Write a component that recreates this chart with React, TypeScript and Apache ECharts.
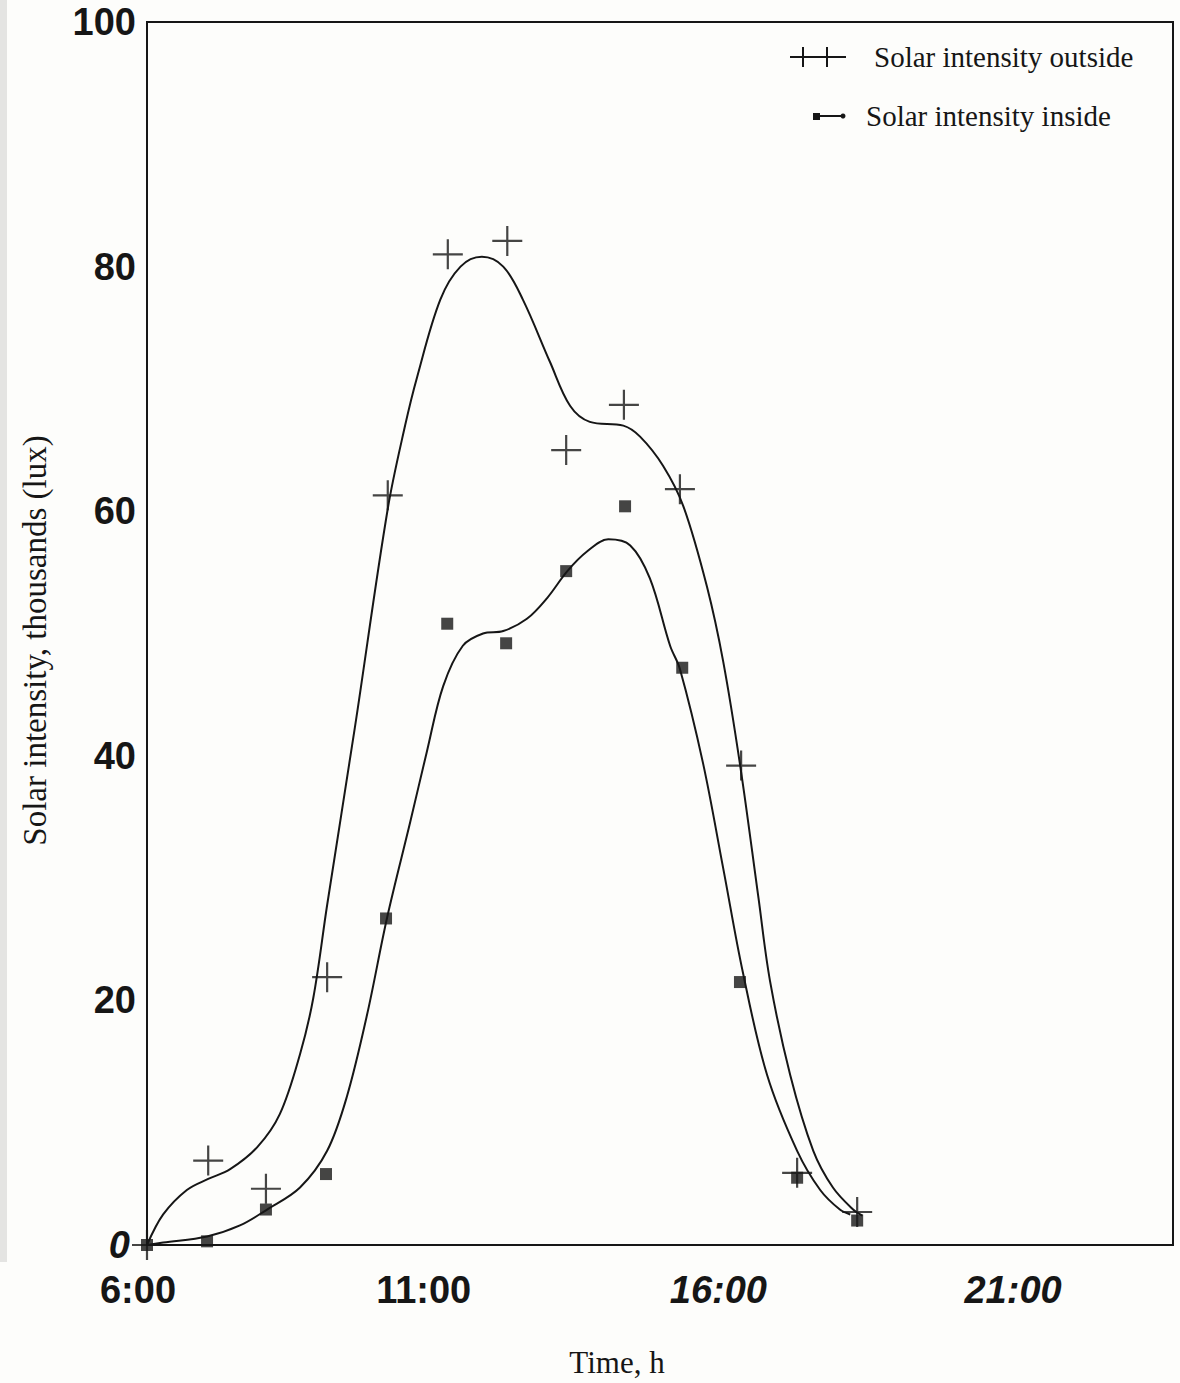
import React, { useEffect, useRef } from "react";
import * as echarts from "echarts";

// Scatter markers
const hoursOutside = [6, 7.06, 8.06, 9.12, 10.17, 11.21, 12.24, 13.26, 14.26, 15.23, 16.29, 17.26, 18.3];
const valuesOutside = [0, 6.9, 4.6, 21.9, 61.3, 81.0, 82.1, 65.0, 68.7, 61.8, 39.2, 5.9, 2.7];
const hoursInside = [6, 7.04, 8.06, 9.1, 10.14, 11.2, 12.22, 13.26, 14.28, 15.27, 16.27, 17.26, 18.3];
const valuesInside = [0, 0.3, 2.9, 5.8, 26.7, 50.8, 49.2, 55.1, 60.4, 47.2, 21.5, 5.5, 2.0];

// Fitted smooth curves
const curveOutsideHours = [6.0, 6.28, 6.69, 7.06, 7.44, 7.91, 8.3, 8.65, 8.88, 9.12, 9.6, 10.17, 10.47, 10.68, 11.08, 11.43, 11.8, 12.17, 12.51, 12.98, 13.33, 13.67, 14.25, 14.54, 14.94, 15.29, 15.7, 15.98, 16.28, 16.59, 16.79, 17.14, 17.54, 17.88, 18.23, 18.39];
const curveOutsideValues = [0, 2.5, 4.5, 5.4, 6.2, 8.0, 10.7, 15.6, 20.2, 27.8, 42.3, 60.2, 67.0, 71.0, 77.3, 80.0, 80.8, 80.0, 77.3, 72.2, 68.6, 67.3, 67.0, 66.1, 63.7, 60.4, 53.8, 47.7, 39.0, 28.4, 21.6, 13.9, 7.7, 4.7, 2.9, 2.4];
const curveInsideHours = [6.0, 6.28, 7.04, 7.61, 8.08, 8.65, 9.12, 9.46, 9.81, 10.16, 10.56, 10.85, 11.13, 11.47, 11.82, 12.17, 12.58, 12.93, 13.28, 13.62, 13.99, 14.37, 14.71, 15.06, 15.23, 15.63, 15.98, 16.32, 16.74, 17.26, 17.66, 18.0, 18.18];
const curveInsideValues = [0, 0.2, 0.7, 1.6, 2.9, 4.7, 7.7, 12.1, 18.8, 26.8, 34.6, 40.4, 45.7, 49.0, 50.0, 50.2, 51.2, 52.9, 55.1, 56.7, 57.7, 57.2, 54.5, 49.0, 47.1, 39.4, 30.8, 22.3, 13.9, 7.7, 4.5, 2.9, 2.5];

const xTickValues = [6, 11, 16, 21];
const xTickLabels = ["6:00", "11:00", "16:00", "21:00"];
const xTickStyles = ["a", "b", "c", "d"];
const yTickValues = [0, 20, 40, 60, 80, 100];
const yTickLabels = ["0", "20", "40", "60", "80", "100"];

const seriesNames = ["Solar intensity outside", "Solar intensity inside"];
const xTitle = "Time, h";
const yTitle = "Solar intensity, thousands (lux)";

const INK = "#161616";
const SERIF = "'Liberation Serif', 'DejaVu Serif', serif";
const SANS = "'Liberation Sans', Arial, sans-serif";

const plusPath = "path://M-1.1,-15 L1.1,-15 L1.1,-1.1 L15,-1.1 L15,1.1 L1.1,1.1 L1.1,15 L-1.1,15 L-1.1,1.1 L-15,1.1 L-15,-1.1 L-1.1,-1.1 Z";

const pair = (xs: number[], ys: number[]) => xs.map((x, i) => [x, ys[i]]);

export default function App() {
  const ref = useRef<HTMLDivElement>(null);
  useEffect(() => {
    document.body.style.margin = "0";
    const chart = echarts.init(ref.current!, null, { renderer: "svg" });
    const tickFont = { fontSize: 38, fontWeight: "bold" as const, fontFamily: SANS, color: INK };
    chart.setOption({
      animation: false,
      backgroundColor: "#fdfdfb",
      grid: {
        left: 147,
        right: 7,
        top: 22,
        bottom: 135,
        show: true,
        borderColor: INK,
        borderWidth: 2,
      },
      xAxis: {
        type: "value",
        min: 6,
        max: 23.77,
        interval: 5,
        splitLine: { show: false },
        axisTick: { show: false },
        axisLine: { show: true, lineStyle: { color: INK, width: 2 } },
        name: xTitle,
        nameLocation: "middle",
        nameGap: 102,
        nameTextStyle: { fontFamily: SERIF, fontSize: 31, color: INK, padding: [0, 86, 0, 0] },
        axisLabel: {
          margin: 26,
          showMaxLabel: false,
          ...tickFont,
          formatter: (v: number) => {
            const i = xTickValues.findIndex((t) => Math.abs(t - v) < 1e-6);
            if (i < 0) return "";
            return `{${xTickStyles[i]}|${xTickLabels[i]}}`;
          },
          rich: {
            a: { ...tickFont, padding: [0, 18, 0, 0] },
            b: { ...tickFont, padding: [0, 24, 0, 0] },
            c: { ...tickFont, fontStyle: "italic", padding: [0, 12, 0, 0] },
            d: { ...tickFont, fontStyle: "italic" },
          },
        },
      },
      yAxis: {
        type: "value",
        min: 0,
        max: 100,
        interval: 20,
        splitLine: { show: false },
        axisTick: { show: false },
        axisLine: { show: true, lineStyle: { color: INK, width: 2 } },
        name: yTitle,
        nameLocation: "middle",
        nameRotate: 90,
        nameGap: 96,
        nameTextStyle: { fontFamily: SERIF, fontSize: 33, color: INK, padding: [0, 14, 0, 0] },
        axisLabel: {
          margin: 11,
          ...tickFont,
          formatter: (v: number) => {
            const i = yTickValues.findIndex((t) => Math.abs(t - v) < 1e-6);
            if (i < 0) return "";
            return i === 0 ? `{z|${yTickLabels[i]}}` : yTickLabels[i];
          },
          rich: {
            z: { ...tickFont, fontStyle: "italic", padding: [0, 6, 0, 0] },
          },
        },
      },
      series: [
        {
          name: seriesNames[0] + " curve",
          type: "line",
          data: pair(curveOutsideHours, curveOutsideValues),
          smooth: 0.35,
          showSymbol: false,
          symbol: "none",
          lineStyle: { color: INK, width: 2 },
          silent: true,
        },
        {
          name: seriesNames[1] + " curve",
          type: "line",
          data: pair(curveInsideHours, curveInsideValues),
          smooth: 0.35,
          showSymbol: false,
          symbol: "none",
          lineStyle: { color: INK, width: 2 },
          silent: true,
        },
        {
          name: seriesNames[0],
          type: "scatter",
          data: pair(hoursOutside, valuesOutside),
          symbol: plusPath,
          symbolSize: 30,
          itemStyle: { color: INK },
        },
        {
          name: seriesNames[1],
          type: "scatter",
          data: pair(hoursInside, valuesInside),
          symbol: "rect",
          symbolSize: 12,
          itemStyle: { color: INK },
        },
      ],
      graphic: [
        { type: "rect", left: 0, top: 0, shape: { width: 7, height: 1262 }, style: { fill: "#e4e4e2" }, z: -1 },
        { type: "line", shape: { x1: 790, y1: 57, x2: 846, y2: 57 }, style: { stroke: INK, lineWidth: 2 } },
        { type: "line", shape: { x1: 803, y1: 47, x2: 803, y2: 67 }, style: { stroke: INK, lineWidth: 2 } },
        { type: "line", shape: { x1: 827, y1: 47, x2: 827, y2: 67 }, style: { stroke: INK, lineWidth: 2 } },
        {
          type: "text",
          x: 874,
          y: 57,
          style: { text: seriesNames[0], font: `29px ${SERIF}`, fill: INK, verticalAlign: "middle", textAlign: "left" },
        },
        { type: "line", shape: { x1: 816, y1: 116, x2: 845, y2: 116 }, style: { stroke: INK, lineWidth: 2 } },
        { type: "rect", shape: { x: 813, y: 113, width: 7, height: 7 }, style: { fill: INK } },
        { type: "circle", shape: { cx: 843, cy: 116, r: 2.5 }, style: { fill: INK } },
        {
          type: "text",
          x: 866,
          y: 116,
          style: { text: seriesNames[1], font: `29px ${SERIF}`, fill: INK, verticalAlign: "middle", textAlign: "left" },
        },
      ],
    });
    return () => chart.dispose();
  }, []);
  return <div ref={ref} style={{ width: 1180, height: 1383 }} />;
}
